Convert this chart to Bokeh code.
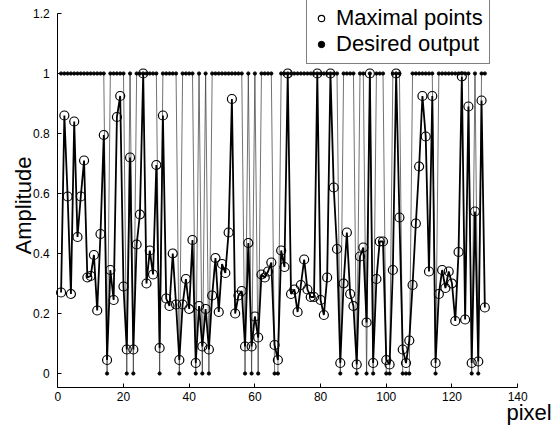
import math
from bokeh.plotting import figure
from bokeh.models import (Range1d, FixedTicker, CustomJSTickFormatter, Legend,
                          LegendItem, Label, ColumnDataSource)
from bokeh.embed import file_html
from bokeh.resources import INLINE

# ---- data ----
pixel = list(range(1, 131))

maximal = [
    0.27, 0.86, 0.59, 0.265, 0.84, 0.455, 0.59, 0.71, 0.32, 0.325,
    0.395, 0.21, 0.465, 0.795, 0.045, 0.345, 0.245, 0.855, 0.925, 0.29,
    0.08, 0.72, 0.08, 0.43, 0.53, 1.0, 0.30, 0.41, 0.33, 0.695,
    0.085, 0.86, 0.25, 0.225, 0.40, 0.23, 0.045, 0.23, 0.315, 0.215,
    0.445, 0.035, 0.225, 0.09, 0.215, 0.08, 0.26, 0.385, 0.205, 0.365,
    0.335, 0.47, 0.915, 0.20, 0.26, 0.275, 0.09, 0.435, 0.09, 0.19,
    0.12, 0.33, 0.32, 0.34, 0.37, 0.095, 0.045, 0.41, 0.355, 1.0,
    0.265, 0.28, 0.205, 0.295, 0.38, 0.28, 0.255, 0.255, 1.0, 0.245,
    0.195, 0.32, 1.0, 0.62, 0.415, 0.035, 0.30, 0.47, 0.265, 0.225,
    0.03, 0.39, 0.42, 0.17, 1.0, 0.035, 0.315, 0.44, 0.44, 0.045,
    0.03, 0.345, 1.0, 0.52, 0.08, 0.035, 0.11, 0.295, 0.50, 0.69,
    0.925, 0.79, 0.34, 0.925, 0.035, 0.265, 0.345, 0.285, 0.34, 0.30,
    0.175, 0.405, 0.99, 0.18, 0.89, 0.035, 0.54, 0.04, 0.91, 0.22,
]

desired = [
    1, 1, 1, 1, 1, 1, 1, 1, 1, 1,
    1, 1, 1, 1, 0, 1, 1, 1, 1, 1,
    0, 1, 0, 1, 1, 1, 1, 1, 1, 1,
    0, 1, 1, 1, 1, 1, 0, 1, 1, 1,
    1, 0, 1, 0, 1, 0, 1, 1, 1, 1,
    1, 1, 1, 1, 1, 1, 0, 1, 0, 1,
    0, 1, 1, 1, 1, 0, 0, 1, 1, 1,
    1, 1, 1, 1, 1, 1, 1, 1, 1, 1,
    1, 1, 1, 1, 1, 0, 1, 1, 1, 1,
    0, 1, 1, 0, 1, 0, 1, 1, 1, 0,
    0, 1, 1, 1, 0, 0, 0, 1, 1, 1,
    1, 1, 1, 1, 0, 1, 1, 1, 1, 1,
    1, 1, 1, 1, 1, 0, 1, 0, 1, 1,
]

x_ticks = [0, 20, 40, 60, 80, 100, 120, 140]
y_ticks = [0, 0.2, 0.4, 0.6, 0.8, 1.0, 1.2]

FONT = "Liberation Sans"

X_AXIS_Y = -0.047   # where the x axis line sits
W, H = 555, 425

# frame covers the whole canvas; axes are drawn at fixed locations
p = figure(width=W, height=H, output_backend="svg", toolbar_location=None,
           x_range=Range1d(-17.44, 151.51), y_range=Range1d(-0.1733, 1.2433),
           min_border_left=0, min_border_right=0,
           min_border_top=0, min_border_bottom=0)
p.grid.visible = False
p.outline_line_color = None
p.background_fill_color = "white"
p.border_fill_color = "white"

src = ColumnDataSource(dict(x=pixel, m=maximal, d=desired))

p.line('x', 'd', source=src, line_color="#333333", line_width=0.7)
dots = p.scatter('x', 'd', source=src, marker="circle", size=3.2,
                 fill_color="black", line_color="black")
p.line('x', 'm', source=src, line_color="black", line_width=1.8)
circs = p.scatter('x', 'm', source=src, marker="circle", size=9,
                  fill_color=None, line_color="black", line_width=1.2)

for ax in (p.xaxis, p.yaxis):
    ax.major_tick_in = 4
    ax.major_tick_out = 0
    ax.minor_tick_line_color = None
    ax.axis_line_color = "black"
    ax.major_tick_line_color = "black"
    ax.major_label_text_font = FONT
    ax.major_label_text_font_size = "12px"
    ax.major_label_text_color = "black"

p.xaxis.fixed_location = X_AXIS_Y
p.xaxis.bounds = (0, 140)
p.yaxis.fixed_location = 0
p.yaxis.bounds = (X_AXIS_Y, 1.2)

p.xaxis.ticker = FixedTicker(ticks=x_ticks)
p.yaxis.ticker = FixedTicker(ticks=y_ticks)
p.yaxis.formatter = CustomJSTickFormatter(code="return Number(tick.toFixed(1)).toString();")
p.xaxis.major_label_standoff = 4
p.yaxis.major_label_standoff = 8

legend = Legend(items=[LegendItem(label="Maximal points", renderers=[circs]),
                       LegendItem(label="Desired output", renderers=[dots])],
                location=(306, 361))
legend.label_text_font = FONT
legend.label_text_font_size = "22px"
legend.label_text_color = "black"
legend.border_line_color = "black"
legend.border_line_width = 1
legend.background_fill_color = "white"
legend.background_fill_alpha = 1
legend.padding = 6
legend.spacing = 0
legend.margin = 0
legend.glyph_width = 16
legend.glyph_height = 24
legend.label_height = 24
legend.label_standoff = 7
p.add_layout(legend)

ylab = Label(x=0, y=0.56, x_offset=-34, text="Amplitude", angle=math.pi / 2,
             text_align="center", text_baseline="middle",
             text_font=FONT, text_font_size="22px", text_color="black")
xlab = Label(x=140, y=X_AXIS_Y, x_offset=34, y_offset=-25, text="pixel",
             text_align="right", text_baseline="alphabetic",
             text_font=FONT, text_font_size="22px", text_color="black")
p.add_layout(ylab)
p.add_layout(xlab)

open("out.html", "w").write(file_html(p, INLINE))
